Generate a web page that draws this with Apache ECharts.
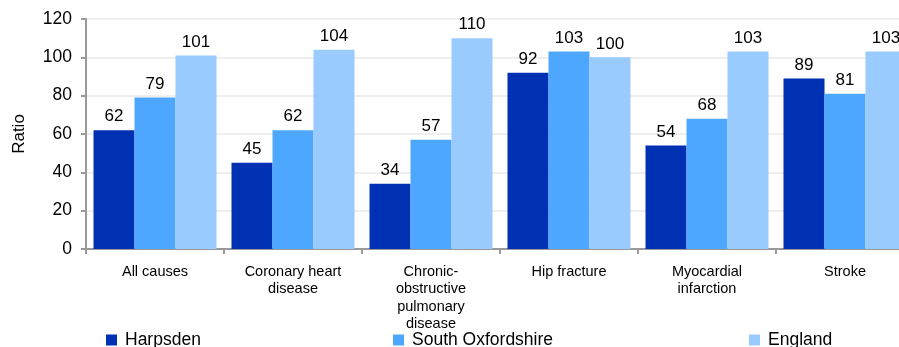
<!DOCTYPE html>
<html><head><meta charset="utf-8">
<script src="https://cdn.jsdelivr.net/npm/echarts@6/dist/echarts.min.js"></script>
<style>html,body{margin:0;padding:0;background:#fff}#c{width:899px;height:347px}</style>
</head><body><div id="c"></div>
<script>
const categories = ["All causes", "Coronary heart\ndisease", "Chronic-\nobstructive\npulmonary\ndisease", "Hip fracture", "Myocardial\ninfarction", "Stroke"];
const harpsden = [62, 45, 34, 92, 54, 89];
const southOxfordshire = [79, 62, 57, 103, 68, 81];
const england = [101, 104, 110, 100, 103, 103];
const seriesNames = ["Harpsden", "South Oxfordshire", "England"];
const colors = ["#0031B2", "#4EA7FF", "#9ACBFF"];
const yTicks = [0, 20, 40, 60, 80, 100, 120];

const font = "Liberation Sans, Arial, sans-serif";
const chart = echarts.init(document.getElementById('c'));
const mk = (name, data, color) => ({
  name, type: 'bar', data, barWidth: 41, barGap: '0%',
  itemStyle: { color },
  label: { show: true, position: 'top', distance: 5, color: '#000', fontSize: 17, fontFamily: font },
  animation: false
});
const legendPos = [101, 388, 744];
chart.setOption({
  animation: false,
  textStyle: { fontFamily: font },
  grid: { left: 86, top: 19, width: 828, bottom: 98, containLabel: false, outerBoundsMode: 'none' },
  xAxis: {
    type: 'category', data: categories,
    axisLine: { lineStyle: { color: '#999', width: 2 } },
    axisTick: { show: true, length: 5, lineStyle: { color: '#999', width: 2 } },
    axisLabel: { color: '#000', fontSize: 14.5, lineHeight: 17.5, margin: 14, fontFamily: font, interval: 0 }
  },
  yAxis: {
    type: 'value', min: yTicks[0], max: yTicks[yTicks.length - 1], interval: 20,
    name: 'Ratio', nameLocation: 'middle', nameGap: 58, nameRotate: 90,
    nameTextStyle: { color: '#000', fontSize: 17, fontFamily: font },
    axisLine: { show: true, lineStyle: { color: '#999', width: 2 } },
    axisTick: { show: true, length: 5, lineStyle: { color: '#999', width: 2 } },
    axisLabel: { color: '#000', fontSize: 17.5, margin: 14, fontFamily: font },
    splitLine: { lineStyle: { color: '#eeeeee', width: 2 } }
  },
  legend: seriesNames.map((n, i) => ({
    data: [n], left: legendPos[i], top: 326, itemWidth: 11, itemHeight: 11, itemGap: 8,
    icon: 'rect', padding: 5,
    textStyle: { color: '#000', fontSize: 17.5, fontFamily: font, padding: [0, 0, 0, 3] }
  })),
  series: [mk(seriesNames[0], harpsden, colors[0]), mk(seriesNames[1], southOxfordshire, colors[1]), mk(seriesNames[2], england, colors[2])]
});
</script></body></html>
